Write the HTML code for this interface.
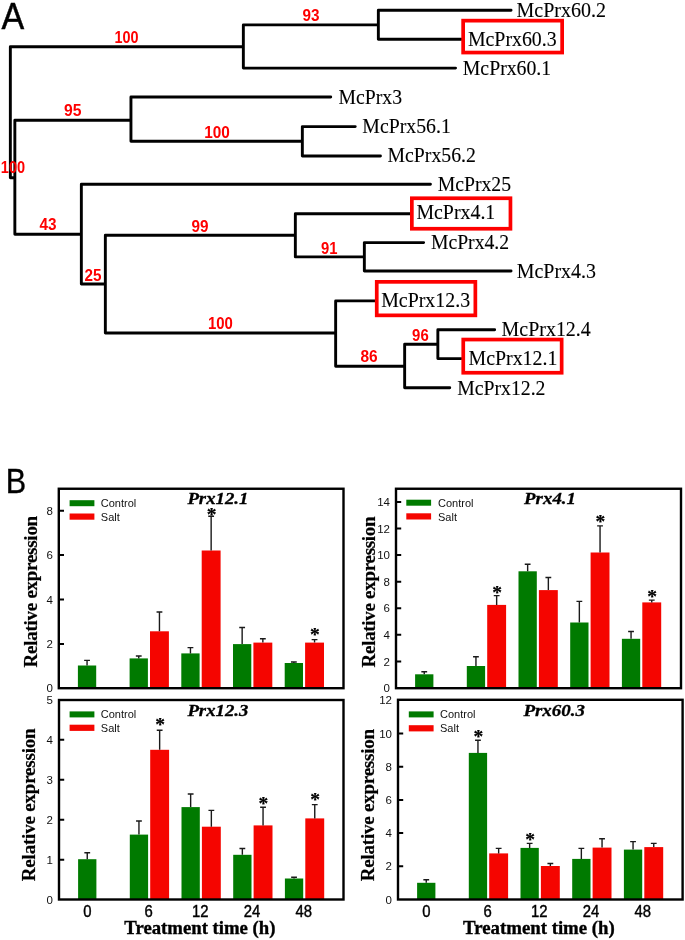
<!DOCTYPE html>
<html lang="en"><head><meta charset="utf-8"><title>McPrx phylogeny and expression</title>
<style>html,body{margin:0;padding:0;background:#fff}svg{display:block;will-change:transform}</style></head><body>
<svg width="685" height="940" viewBox="0 0 685 940">
<rect width="685" height="940" fill="#fff"/>
<g transform="translate(1.6,28.8) scale(0.915,1)"><text x="0" y="0" font-family='"Liberation Sans", "DejaVu Sans", sans-serif' font-size="37.2" fill="#000" stroke="#000" stroke-width="0.45">A</text></g>
<g transform="translate(5.75,493.2) scale(0.85,1)"><text x="0" y="0" font-family='"Liberation Sans", "DejaVu Sans", sans-serif' font-size="36" fill="#000" stroke="#000" stroke-width="0.35">B</text></g>
<path d="M10.35 46.8H243.35M243.35 24.9H378.35M378.35 10.3H511.05M378.35 39.3H461.25M243.35 68.1H455.55M10.35 177.8H14.85M14.85 120.3H130.95M130.95 97H330.75M130.95 141.3H302.35M302.35 126.6H355.25M302.35 156H380.45M14.85 234.3H81.35M81.35 184.3H430.45M81.35 284H105.35M105.35 235.3H295.35M295.35 213.8H410.25M295.35 256.9H364.35M364.35 242.6H423.65M364.35 271H511.05M105.35 333H335.65M335.65 300.9H375.25M335.65 366.3H404.65M404.65 344.3H437.85M437.85 329.7H494.65M437.85 358.6H461.25M404.65 387.7H449.75M10.35 46.8V177.8M243.35 24.9V68.1M378.35 10.3V39.3M14.85 120.3V234.3M130.95 97V141.3M302.35 126.6V156M81.35 184.3V284M105.35 235.3V333M295.35 213.8V256.9M364.35 242.6V271M335.65 300.9V366.3M404.65 344.3V387.7M437.85 329.7V358.6" fill="none" stroke="#000" stroke-width="2.9" stroke-linecap="round" stroke-linejoin="round"/>
<rect x="463.15" y="20.65" width="99" height="31.9" fill="#fff" stroke="#fe0000" stroke-width="3.7"/>
<rect x="411.85" y="198.25" width="98.6" height="30.5" fill="#fff" stroke="#fe0000" stroke-width="3.7"/>
<rect x="376.75" y="281.85" width="98.6" height="33.5" fill="#fff" stroke="#fe0000" stroke-width="3.7"/>
<rect x="463.25" y="339.55" width="98.4" height="33.2" fill="#fff" stroke="#fe0000" stroke-width="3.7"/>
<g font-family='"Liberation Serif", "DejaVu Serif", serif' font-size="22" fill="#000" stroke="#000" stroke-width="0.12">
<text x="516.5" y="17.25" textLength="89.5" lengthAdjust="spacingAndGlyphs">McPrx60.2</text>
<text x="467.9" y="46.15" textLength="88.8" lengthAdjust="spacingAndGlyphs">McPrx60.3</text>
<text x="462.8" y="75.25" textLength="88.4" lengthAdjust="spacingAndGlyphs">McPrx60.1</text>
<text x="338.5" y="103.95" textLength="63.5" lengthAdjust="spacingAndGlyphs">McPrx3</text>
<text x="362.3" y="133.25" textLength="88.5" lengthAdjust="spacingAndGlyphs">McPrx56.1</text>
<text x="387.5" y="162.45" textLength="88.4" lengthAdjust="spacingAndGlyphs">McPrx56.2</text>
<text x="437.7" y="191.05" textLength="73.4" lengthAdjust="spacingAndGlyphs">McPrx25</text>
<text x="416.4" y="219.45" textLength="78.9" lengthAdjust="spacingAndGlyphs">McPrx4.1</text>
<text x="430.9" y="248.65" textLength="78.2" lengthAdjust="spacingAndGlyphs">McPrx4.2</text>
<text x="516.8" y="278.25" textLength="79.1" lengthAdjust="spacingAndGlyphs">McPrx4.3</text>
<text x="381.2" y="306.55" textLength="88.9" lengthAdjust="spacingAndGlyphs">McPrx12.3</text>
<text x="501.6" y="336.05" textLength="89.2" lengthAdjust="spacingAndGlyphs">McPrx12.4</text>
<text x="468.5" y="365.45" textLength="88.9" lengthAdjust="spacingAndGlyphs">McPrx12.1</text>
<text x="457.2" y="394.65" textLength="88.3" lengthAdjust="spacingAndGlyphs">McPrx12.2</text>
</g>
<g font-family='"Liberation Sans", "DejaVu Sans", sans-serif' font-size="16.6" font-weight="bold" fill="#fe0000">
<text x="114.5" y="42.7" textLength="24" lengthAdjust="spacingAndGlyphs">100</text>
<text x="302.5" y="21.4" textLength="17" lengthAdjust="spacingAndGlyphs">93</text>
<text x="64" y="115.5" textLength="17.5" lengthAdjust="spacingAndGlyphs">95</text>
<text x="204.2" y="137.6" textLength="25.6" lengthAdjust="spacingAndGlyphs">100</text>
<text x="0.8" y="172.8" textLength="24.3" lengthAdjust="spacingAndGlyphs">100</text>
<text x="39.5" y="229.8" textLength="17" lengthAdjust="spacingAndGlyphs">43</text>
<text x="191.5" y="231.6" textLength="17" lengthAdjust="spacingAndGlyphs">99</text>
<text x="84.5" y="281.2" textLength="17" lengthAdjust="spacingAndGlyphs">25</text>
<text x="321" y="253.6" textLength="16.5" lengthAdjust="spacingAndGlyphs">91</text>
<text x="207.9" y="329" textLength="24.9" lengthAdjust="spacingAndGlyphs">100</text>
<text x="360.5" y="362" textLength="17.2" lengthAdjust="spacingAndGlyphs">86</text>
<text x="412.1" y="340.7" textLength="16.6" lengthAdjust="spacingAndGlyphs">96</text>
</g>
<g><rect x="77.9" y="665.5" width="18.3" height="22.7" fill="#007a00"/><path d="M87.05 665.5V660.4M84.15 660.4H89.95" stroke="#1a1a1a" stroke-width="1.4" fill="none"/><rect x="129.6" y="658.4" width="18.3" height="29.8" fill="#007a00"/><path d="M138.75 658.4V656M135.85 656H141.65" stroke="#1a1a1a" stroke-width="1.4" fill="none"/><rect x="150" y="631.3" width="18.9" height="56.9" fill="#f50500"/><path d="M159.45 631.3V612M156.55 612H162.35" stroke="#1a1a1a" stroke-width="1.4" fill="none"/><rect x="181.3" y="653.4" width="18.3" height="34.8" fill="#007a00"/><path d="M190.45 653.4V647.6M187.55 647.6H193.35" stroke="#1a1a1a" stroke-width="1.4" fill="none"/><rect x="201.7" y="550.5" width="18.9" height="137.7" fill="#f50500"/><path d="M211.15 550.5V516.2M208.25 516.2H214.05" stroke="#1a1a1a" stroke-width="1.4" fill="none"/><text x="211.55" y="521.48" font-family='"Liberation Serif", "DejaVu Serif", serif' font-size="19.5" fill="#000" font-weight="bold" text-anchor="middle" stroke="#000" stroke-width="0.25">*</text><rect x="233" y="644.1" width="18.3" height="44.1" fill="#007a00"/><path d="M242.15 644.1V627.5M239.25 627.5H245.05" stroke="#1a1a1a" stroke-width="1.4" fill="none"/><rect x="253.4" y="642.6" width="18.9" height="45.6" fill="#f50500"/><path d="M262.85 642.6V638.8M259.95 638.8H265.75" stroke="#1a1a1a" stroke-width="1.4" fill="none"/><rect x="284.7" y="663" width="18.3" height="25.2" fill="#007a00"/><path d="M293.85 663V662M290.95 662H296.75" stroke="#1a1a1a" stroke-width="1.4" fill="none"/><rect x="305.1" y="642.6" width="18.9" height="45.6" fill="#f50500"/><path d="M314.55 642.6V639.6M311.65 639.6H317.45" stroke="#1a1a1a" stroke-width="1.4" fill="none"/><text x="314.95" y="640.98" font-family='"Liberation Serif", "DejaVu Serif", serif' font-size="19.5" fill="#000" font-weight="bold" text-anchor="middle" stroke="#000" stroke-width="0.25">*</text><rect x="58.8" y="488.75" width="284.7" height="199.45" fill="none" stroke="#000" stroke-width="2.4"/><text x="52.8" y="692.42" font-family='"Liberation Sans", "DejaVu Sans", sans-serif' font-size="11.5" fill="#111" text-anchor="end">0</text><text x="52.8" y="648.02" font-family='"Liberation Sans", "DejaVu Sans", sans-serif' font-size="11.5" fill="#111" text-anchor="end">2</text><text x="52.8" y="603.62" font-family='"Liberation Sans", "DejaVu Sans", sans-serif' font-size="11.5" fill="#111" text-anchor="end">4</text><text x="52.8" y="559.22" font-family='"Liberation Sans", "DejaVu Sans", sans-serif' font-size="11.5" fill="#111" text-anchor="end">6</text><text x="52.8" y="514.82" font-family='"Liberation Sans", "DejaVu Sans", sans-serif' font-size="11.5" fill="#111" text-anchor="end">8</text><path d="M58.8 643.9h5.2M58.8 599.5h5.2M58.8 555.1h5.2M58.8 510.7h5.2" stroke="#000" stroke-width="2" fill="none"/><rect x="69.6" y="500.2" width="24.8" height="6" fill="#007a00"/><rect x="69.6" y="513.5" width="24.8" height="6.2" fill="#f50500"/><text x="100.8" y="507" font-family='"Liberation Sans", "DejaVu Sans", sans-serif' font-size="11" fill="#111">Control</text><text x="100.8" y="520.8" font-family='"Liberation Sans", "DejaVu Sans", sans-serif' font-size="11" fill="#111">Salt</text><text x="187.4" y="504.4" font-family='"Liberation Serif", "DejaVu Serif", serif' font-size="17.5" fill="#000" font-weight="bold" font-style="italic" textLength="61" lengthAdjust="spacingAndGlyphs" stroke="#000" stroke-width="0.3">Prx12.1</text><g transform="translate(36.8,667.1) rotate(-90)"><text x="-0.3" y="0" font-family='"Liberation Serif", "DejaVu Serif", serif' font-size="19" fill="#000" font-weight="bold" textLength="151.6" lengthAdjust="spacing" stroke="#000" stroke-width="0.2">Relative expression</text></g></g>
<g><rect x="415.1" y="674.3" width="18.3" height="13.9" fill="#007a00"/><path d="M424.25 674.3V671.7M421.35 671.7H427.15" stroke="#1a1a1a" stroke-width="1.4" fill="none"/><rect x="466.8" y="666" width="18.3" height="22.2" fill="#007a00"/><path d="M475.95 666V656.7M473.05 656.7H478.85" stroke="#1a1a1a" stroke-width="1.4" fill="none"/><rect x="487.2" y="604.9" width="18.9" height="83.3" fill="#f50500"/><path d="M496.65 604.9V595.6M493.75 595.6H499.55" stroke="#1a1a1a" stroke-width="1.4" fill="none"/><text x="497.05" y="599.48" font-family='"Liberation Serif", "DejaVu Serif", serif' font-size="19.5" fill="#000" font-weight="bold" text-anchor="middle" stroke="#000" stroke-width="0.25">*</text><rect x="518.5" y="571.3" width="18.3" height="116.9" fill="#007a00"/><path d="M527.65 571.3V564.3M524.75 564.3H530.55" stroke="#1a1a1a" stroke-width="1.4" fill="none"/><rect x="538.9" y="590.1" width="18.9" height="98.1" fill="#f50500"/><path d="M548.35 590.1V577.5M545.45 577.5H551.25" stroke="#1a1a1a" stroke-width="1.4" fill="none"/><rect x="570.2" y="622.5" width="18.3" height="65.7" fill="#007a00"/><path d="M579.35 622.5V601.4M576.45 601.4H582.25" stroke="#1a1a1a" stroke-width="1.4" fill="none"/><rect x="590.6" y="552.5" width="18.9" height="135.7" fill="#f50500"/><path d="M600.05 552.5V525.9M597.15 525.9H602.95" stroke="#1a1a1a" stroke-width="1.4" fill="none"/><text x="600.45" y="528.48" font-family='"Liberation Serif", "DejaVu Serif", serif' font-size="19.5" fill="#000" font-weight="bold" text-anchor="middle" stroke="#000" stroke-width="0.25">*</text><rect x="621.9" y="638.8" width="18.3" height="49.4" fill="#007a00"/><path d="M631.05 638.8V631.5M628.15 631.5H633.95" stroke="#1a1a1a" stroke-width="1.4" fill="none"/><rect x="642.3" y="602.4" width="18.9" height="85.8" fill="#f50500"/><path d="M651.75 602.4V600.1M648.85 600.1H654.65" stroke="#1a1a1a" stroke-width="1.4" fill="none"/><text x="652.15" y="603.18" font-family='"Liberation Serif", "DejaVu Serif", serif' font-size="19.5" fill="#000" font-weight="bold" text-anchor="middle" stroke="#000" stroke-width="0.25">*</text><rect x="396" y="488.75" width="285" height="199.45" fill="none" stroke="#000" stroke-width="2.4"/><text x="390" y="692.12" font-family='"Liberation Sans", "DejaVu Sans", sans-serif' font-size="11.5" fill="#111" text-anchor="end">0</text><text x="390" y="665.54" font-family='"Liberation Sans", "DejaVu Sans", sans-serif' font-size="11.5" fill="#111" text-anchor="end">2</text><text x="390" y="638.96" font-family='"Liberation Sans", "DejaVu Sans", sans-serif' font-size="11.5" fill="#111" text-anchor="end">4</text><text x="390" y="612.38" font-family='"Liberation Sans", "DejaVu Sans", sans-serif' font-size="11.5" fill="#111" text-anchor="end">6</text><text x="390" y="585.8" font-family='"Liberation Sans", "DejaVu Sans", sans-serif' font-size="11.5" fill="#111" text-anchor="end">8</text><text x="390" y="559.22" font-family='"Liberation Sans", "DejaVu Sans", sans-serif' font-size="11.5" fill="#111" text-anchor="end">10</text><text x="390" y="532.64" font-family='"Liberation Sans", "DejaVu Sans", sans-serif' font-size="11.5" fill="#111" text-anchor="end">12</text><text x="390" y="506.06" font-family='"Liberation Sans", "DejaVu Sans", sans-serif' font-size="11.5" fill="#111" text-anchor="end">14</text><path d="M396 661.42h5.2M396 634.84h5.2M396 608.26h5.2M396 581.68h5.2M396 555.1h5.2M396 528.52h5.2M396 501.94h5.2" stroke="#000" stroke-width="2" fill="none"/><rect x="406.3" y="499.7" width="24.8" height="6" fill="#007a00"/><rect x="406.3" y="513.3" width="24.8" height="6.2" fill="#f50500"/><text x="438" y="507" font-family='"Liberation Sans", "DejaVu Sans", sans-serif' font-size="11" fill="#111">Control</text><text x="438" y="520.8" font-family='"Liberation Sans", "DejaVu Sans", sans-serif' font-size="11" fill="#111">Salt</text><text x="524.1" y="503.7" font-family='"Liberation Serif", "DejaVu Serif", serif' font-size="17.5" fill="#000" font-weight="bold" font-style="italic" textLength="51.9" lengthAdjust="spacingAndGlyphs" stroke="#000" stroke-width="0.3">Prx4.1</text><g transform="translate(375.3,667.1) rotate(-90)"><text x="-0.3" y="0" font-family='"Liberation Serif", "DejaVu Serif", serif' font-size="19" fill="#000" font-weight="bold" textLength="151" lengthAdjust="spacing" stroke="#000" stroke-width="0.2">Relative expression</text></g></g>
<g><rect x="78.1" y="859.2" width="18.3" height="40.3" fill="#007a00"/><path d="M87.25 859.2V852.7M84.35 852.7H90.15" stroke="#1a1a1a" stroke-width="1.4" fill="none"/><rect x="129.8" y="834.6" width="18.3" height="64.9" fill="#007a00"/><path d="M138.95 834.6V821M136.05 821H141.85" stroke="#1a1a1a" stroke-width="1.4" fill="none"/><rect x="150.2" y="749.8" width="18.9" height="149.7" fill="#f50500"/><path d="M159.65 749.8V730.3M156.75 730.3H162.55" stroke="#1a1a1a" stroke-width="1.4" fill="none"/><text x="160.05" y="731.38" font-family='"Liberation Serif", "DejaVu Serif", serif' font-size="19.5" fill="#000" font-weight="bold" text-anchor="middle" stroke="#000" stroke-width="0.25">*</text><rect x="181.5" y="807.1" width="18.3" height="92.4" fill="#007a00"/><path d="M190.65 807.1V794M187.75 794H193.55" stroke="#1a1a1a" stroke-width="1.4" fill="none"/><rect x="201.9" y="826.7" width="18.9" height="72.8" fill="#f50500"/><path d="M211.35 826.7V810.4M208.45 810.4H214.25" stroke="#1a1a1a" stroke-width="1.4" fill="none"/><rect x="233.2" y="854.8" width="18.3" height="44.7" fill="#007a00"/><path d="M242.35 854.8V848.5M239.45 848.5H245.25" stroke="#1a1a1a" stroke-width="1.4" fill="none"/><rect x="253.6" y="825.4" width="18.9" height="74.1" fill="#f50500"/><path d="M263.05 825.4V807.3M260.15 807.3H265.95" stroke="#1a1a1a" stroke-width="1.4" fill="none"/><text x="263.45" y="809.68" font-family='"Liberation Serif", "DejaVu Serif", serif' font-size="19.5" fill="#000" font-weight="bold" text-anchor="middle" stroke="#000" stroke-width="0.25">*</text><rect x="284.9" y="878.5" width="18.3" height="21" fill="#007a00"/><path d="M294.05 878.5V877.3M291.15 877.3H296.95" stroke="#1a1a1a" stroke-width="1.4" fill="none"/><rect x="305.3" y="818.4" width="18.9" height="81.1" fill="#f50500"/><path d="M314.75 818.4V804.6M311.85 804.6H317.65" stroke="#1a1a1a" stroke-width="1.4" fill="none"/><text x="315.15" y="806.48" font-family='"Liberation Serif", "DejaVu Serif", serif' font-size="19.5" fill="#000" font-weight="bold" text-anchor="middle" stroke="#000" stroke-width="0.25">*</text><rect x="59" y="700" width="284.5" height="199.5" fill="none" stroke="#000" stroke-width="2.4"/><text x="53" y="903.82" font-family='"Liberation Sans", "DejaVu Sans", sans-serif' font-size="11.5" fill="#111" text-anchor="end">0</text><text x="53" y="863.82" font-family='"Liberation Sans", "DejaVu Sans", sans-serif' font-size="11.5" fill="#111" text-anchor="end">1</text><text x="53" y="823.82" font-family='"Liberation Sans", "DejaVu Sans", sans-serif' font-size="11.5" fill="#111" text-anchor="end">2</text><text x="53" y="783.82" font-family='"Liberation Sans", "DejaVu Sans", sans-serif' font-size="11.5" fill="#111" text-anchor="end">3</text><text x="53" y="743.82" font-family='"Liberation Sans", "DejaVu Sans", sans-serif' font-size="11.5" fill="#111" text-anchor="end">4</text><text x="53" y="703.82" font-family='"Liberation Sans", "DejaVu Sans", sans-serif' font-size="11.5" fill="#111" text-anchor="end">5</text><path d="M59 859.7h5.2M59 819.7h5.2M59 779.7h5.2M59 739.7h5.2" stroke="#000" stroke-width="2" fill="none"/><rect x="69.6" y="711.4" width="24.8" height="6" fill="#007a00"/><rect x="69.6" y="724.7" width="24.8" height="6.2" fill="#f50500"/><text x="100.8" y="718.2" font-family='"Liberation Sans", "DejaVu Sans", sans-serif' font-size="11" fill="#111">Control</text><text x="100.8" y="732" font-family='"Liberation Sans", "DejaVu Sans", sans-serif' font-size="11" fill="#111">Salt</text><text x="187.4" y="716.1" font-family='"Liberation Serif", "DejaVu Serif", serif' font-size="17.5" fill="#000" font-weight="bold" font-style="italic" textLength="61" lengthAdjust="spacingAndGlyphs" stroke="#000" stroke-width="0.3">Prx12.3</text><g transform="translate(35,880.9) rotate(-90)"><text x="-0.3" y="0" font-family='"Liberation Serif", "DejaVu Serif", serif' font-size="19" fill="#000" font-weight="bold" textLength="152.9" lengthAdjust="spacing" stroke="#000" stroke-width="0.2">Relative expression</text></g><text x="124.3" y="934.2" font-family='"Liberation Serif", "DejaVu Serif", serif' font-size="18.3" fill="#000" font-weight="bold" textLength="151.2" lengthAdjust="spacingAndGlyphs" stroke="#000" stroke-width="0.35">Treatment time (h)</text><g transform="translate(87.35,917.4) scale(0.93,1)"><text x="0" y="0" font-family='"Liberation Sans", "DejaVu Sans", sans-serif' font-size="16" fill="#000" text-anchor="middle" stroke="#000" stroke-width="0.4">0</text></g><g transform="translate(148.55,917.4) scale(0.93,1)"><text x="0" y="0" font-family='"Liberation Sans", "DejaVu Sans", sans-serif' font-size="16" fill="#000" text-anchor="middle" stroke="#000" stroke-width="0.4">6</text></g><g transform="translate(200.25,917.4) scale(0.93,1)"><text x="0" y="0" font-family='"Liberation Sans", "DejaVu Sans", sans-serif' font-size="16" fill="#000" text-anchor="middle" stroke="#000" stroke-width="0.4">12</text></g><g transform="translate(251.95,917.4) scale(0.93,1)"><text x="0" y="0" font-family='"Liberation Sans", "DejaVu Sans", sans-serif' font-size="16" fill="#000" text-anchor="middle" stroke="#000" stroke-width="0.4">24</text></g><g transform="translate(303.65,917.4) scale(0.93,1)"><text x="0" y="0" font-family='"Liberation Sans", "DejaVu Sans", sans-serif' font-size="16" fill="#000" text-anchor="middle" stroke="#000" stroke-width="0.4">48</text></g></g>
<g><rect x="417.1" y="882.8" width="18.3" height="16.7" fill="#007a00"/><path d="M426.25 882.8V879.8M423.35 879.8H429.15" stroke="#1a1a1a" stroke-width="1.4" fill="none"/><rect x="468.8" y="752.9" width="18.3" height="146.6" fill="#007a00"/><path d="M477.95 752.9V740.3M475.05 740.3H480.85" stroke="#1a1a1a" stroke-width="1.4" fill="none"/><rect x="489.2" y="853.4" width="18.9" height="46.1" fill="#f50500"/><path d="M498.65 853.4V848.4M495.75 848.4H501.55" stroke="#1a1a1a" stroke-width="1.4" fill="none"/><text x="478.35" y="742.88" font-family='"Liberation Serif", "DejaVu Serif", serif' font-size="19.5" fill="#000" font-weight="bold" text-anchor="middle" stroke="#000" stroke-width="0.25">*</text><rect x="520.5" y="847.9" width="18.3" height="51.6" fill="#007a00"/><path d="M529.65 847.9V843.4M526.75 843.4H532.55" stroke="#1a1a1a" stroke-width="1.4" fill="none"/><rect x="540.9" y="866" width="18.9" height="33.5" fill="#f50500"/><path d="M550.35 866V863.5M547.45 863.5H553.25" stroke="#1a1a1a" stroke-width="1.4" fill="none"/><text x="530.05" y="846.48" font-family='"Liberation Serif", "DejaVu Serif", serif' font-size="19.5" fill="#000" font-weight="bold" text-anchor="middle" stroke="#000" stroke-width="0.25">*</text><rect x="572.2" y="858.9" width="18.3" height="40.6" fill="#007a00"/><path d="M581.35 858.9V848.4M578.45 848.4H584.25" stroke="#1a1a1a" stroke-width="1.4" fill="none"/><rect x="592.6" y="847.6" width="18.9" height="51.9" fill="#f50500"/><path d="M602.05 847.6V838.8M599.15 838.8H604.95" stroke="#1a1a1a" stroke-width="1.4" fill="none"/><rect x="623.9" y="849.6" width="18.3" height="49.9" fill="#007a00"/><path d="M633.05 849.6V841.6M630.15 841.6H635.95" stroke="#1a1a1a" stroke-width="1.4" fill="none"/><rect x="644.3" y="847.1" width="18.9" height="52.4" fill="#f50500"/><path d="M653.75 847.1V843.4M650.85 843.4H656.65" stroke="#1a1a1a" stroke-width="1.4" fill="none"/><rect x="398" y="699.8" width="284.6" height="199.7" fill="none" stroke="#000" stroke-width="2.4"/><text x="392" y="903.62" font-family='"Liberation Sans", "DejaVu Sans", sans-serif' font-size="11.5" fill="#111" text-anchor="end">0</text><text x="392" y="870.42" font-family='"Liberation Sans", "DejaVu Sans", sans-serif' font-size="11.5" fill="#111" text-anchor="end">2</text><text x="392" y="837.22" font-family='"Liberation Sans", "DejaVu Sans", sans-serif' font-size="11.5" fill="#111" text-anchor="end">4</text><text x="392" y="804.02" font-family='"Liberation Sans", "DejaVu Sans", sans-serif' font-size="11.5" fill="#111" text-anchor="end">6</text><text x="392" y="770.82" font-family='"Liberation Sans", "DejaVu Sans", sans-serif' font-size="11.5" fill="#111" text-anchor="end">8</text><text x="392" y="737.62" font-family='"Liberation Sans", "DejaVu Sans", sans-serif' font-size="11.5" fill="#111" text-anchor="end">10</text><text x="392" y="704.42" font-family='"Liberation Sans", "DejaVu Sans", sans-serif' font-size="11.5" fill="#111" text-anchor="end">12</text><path d="M398 866.3h5.2M398 833.1h5.2M398 799.9h5.2M398 766.7h5.2M398 733.5h5.2" stroke="#000" stroke-width="2" fill="none"/><rect x="408.8" y="711.4" width="24.8" height="6" fill="#007a00"/><rect x="408.8" y="725.2" width="24.8" height="6.2" fill="#f50500"/><text x="440" y="718.2" font-family='"Liberation Sans", "DejaVu Sans", sans-serif' font-size="11" fill="#111">Control</text><text x="440" y="732" font-family='"Liberation Sans", "DejaVu Sans", sans-serif' font-size="11" fill="#111">Salt</text><text x="523.4" y="716.1" font-family='"Liberation Serif", "DejaVu Serif", serif' font-size="17.5" fill="#000" font-weight="bold" font-style="italic" textLength="61.7" lengthAdjust="spacingAndGlyphs" stroke="#000" stroke-width="0.3">Prx60.3</text><g transform="translate(374.2,880.9) rotate(-90)"><text x="-0.3" y="0" font-family='"Liberation Serif", "DejaVu Serif", serif' font-size="19" fill="#000" font-weight="bold" textLength="152.3" lengthAdjust="spacing" stroke="#000" stroke-width="0.2">Relative expression</text></g><text x="463.1" y="934.2" font-family='"Liberation Serif", "DejaVu Serif", serif' font-size="18.3" fill="#000" font-weight="bold" textLength="151.7" lengthAdjust="spacingAndGlyphs" stroke="#000" stroke-width="0.35">Treatment time (h)</text><g transform="translate(426.35,917.4) scale(0.93,1)"><text x="0" y="0" font-family='"Liberation Sans", "DejaVu Sans", sans-serif' font-size="16" fill="#000" text-anchor="middle" stroke="#000" stroke-width="0.4">0</text></g><g transform="translate(487.55,917.4) scale(0.93,1)"><text x="0" y="0" font-family='"Liberation Sans", "DejaVu Sans", sans-serif' font-size="16" fill="#000" text-anchor="middle" stroke="#000" stroke-width="0.4">6</text></g><g transform="translate(539.25,917.4) scale(0.93,1)"><text x="0" y="0" font-family='"Liberation Sans", "DejaVu Sans", sans-serif' font-size="16" fill="#000" text-anchor="middle" stroke="#000" stroke-width="0.4">12</text></g><g transform="translate(590.95,917.4) scale(0.93,1)"><text x="0" y="0" font-family='"Liberation Sans", "DejaVu Sans", sans-serif' font-size="16" fill="#000" text-anchor="middle" stroke="#000" stroke-width="0.4">24</text></g><g transform="translate(642.65,917.4) scale(0.93,1)"><text x="0" y="0" font-family='"Liberation Sans", "DejaVu Sans", sans-serif' font-size="16" fill="#000" text-anchor="middle" stroke="#000" stroke-width="0.4">48</text></g></g>
</svg></body></html>
